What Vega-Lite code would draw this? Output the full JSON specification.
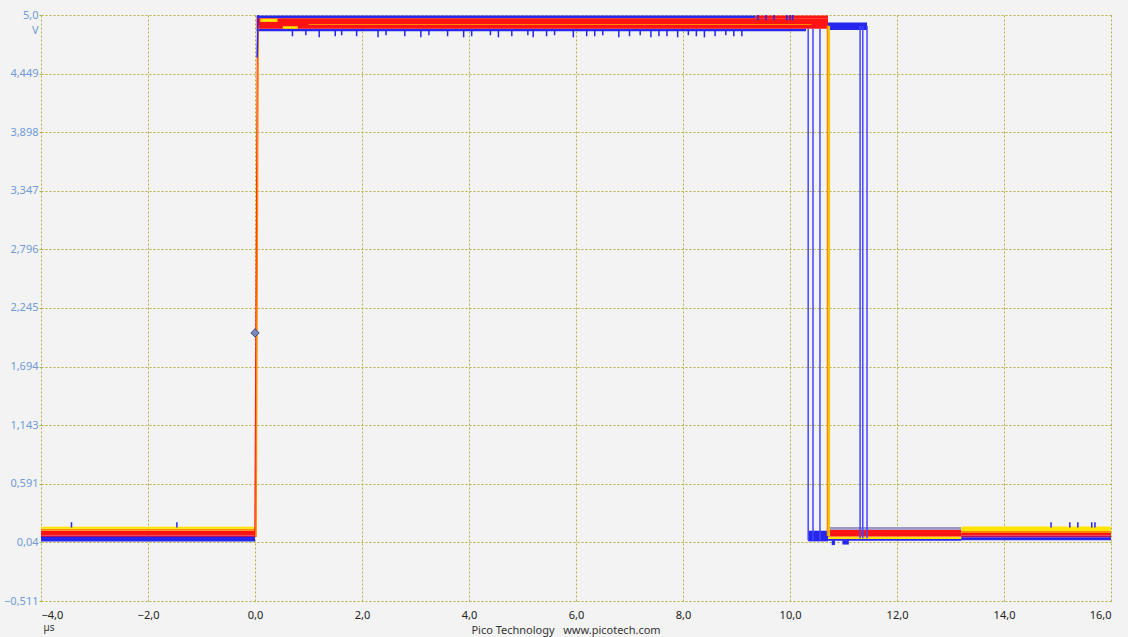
{
  "$schema": "https://vega.github.io/schema/vega-lite/v6.json",
  "width": 1070,
  "height": 586,
  "autosize": {"type": "none"},
  "padding": {"left": 41, "top": 15, "right": 17, "bottom": 36},
  "background": "#f3f3f3",
  "config": {"view": {"stroke": null}, "font": "Noto Sans"},
  "title": {
    "text": "Pico Technology\u00a0\u00a0\u00a0www.picotech.com",
    "orient": "bottom",
    "anchor": "middle",
    "fontSize": 11,
    "fontWeight": "normal",
    "color": "#333333",
    "font": "Noto Sans",
    "offset": -7,
    "dx": -10
  },
  "datasets": {
    "bands": [
      {"x0": -4, "x1": 0.0, "y0": 0.048, "y1": 0.09, "d": "1"},
      {"x0": -4, "x1": 0.0, "y0": 0.09, "y1": 0.105, "d": "3"},
      {"x0": -4, "x1": 0.0, "y0": 0.105, "y1": 0.15, "d": "4"},
      {"x0": -4, "x1": 0.0, "y0": 0.15, "y1": 0.168, "d": "5"},
      {"x0": -4, "x1": 0.0, "y0": 0.168, "y1": 0.188, "d": "6"},
      {"x0": 0.03, "x1": 9.35, "y0": 4.97, "y1": 4.995, "d": "1"},
      {"x0": 0.03, "x1": 10.3, "y0": 4.848, "y1": 4.87, "d": "1"},
      {"x0": 0.03, "x1": 10.71, "y0": 4.87, "y1": 4.97, "d": "4"},
      {"x0": 9.35, "x1": 10.71, "y0": 4.97, "y1": 4.995, "d": "4"},
      {"x0": 1.0, "x1": 10.4, "y0": 4.905, "y1": 4.915, "d": "5"},
      {"x0": 0.1, "x1": 0.42, "y0": 4.935, "y1": 4.965, "d": "6"},
      {"x0": 0.52, "x1": 0.8, "y0": 4.87, "y1": 4.895, "d": "6"},
      {"x0": 10.71, "x1": 11.44, "y0": 4.86, "y1": 4.93, "d": "1"},
      {"x0": 10.34, "x1": 10.71, "y0": 0.05, "y1": 0.15, "d": "1"},
      {"x0": 10.71, "x1": 13.2, "y0": 0.055, "y1": 0.072, "d": "1"},
      {"x0": 10.71, "x1": 13.2, "y0": 0.072, "y1": 0.095, "d": "6"},
      {"x0": 10.71, "x1": 13.2, "y0": 0.095, "y1": 0.16, "d": "4"},
      {"x0": 10.71, "x1": 13.2, "y0": 0.16, "y1": 0.185, "d": "2"},
      {"x0": 13.2, "x1": 16, "y0": 0.06, "y1": 0.088, "d": "1"},
      {"x0": 13.2, "x1": 16, "y0": 0.088, "y1": 0.104, "d": "3"},
      {"x0": 13.2, "x1": 16, "y0": 0.104, "y1": 0.128, "d": "4"},
      {"x0": 13.2, "x1": 16, "y0": 0.128, "y1": 0.147, "d": "5"},
      {"x0": 13.2, "x1": 16, "y0": 0.147, "y1": 0.19, "d": "6"},
      {"x0": 10.78, "x1": 10.84, "y0": 0.015, "y1": 0.06, "d": "1"},
      {"x0": 10.98, "x1": 11.1, "y0": 0.02, "y1": 0.06, "d": "1"}
    ],
    "edges": [
      {"x": 10.34, "x2": 10.34, "y0": 0.06, "y1": 4.87, "d": "7"},
      {"x": 10.43, "x2": 10.43, "y0": 0.06, "y1": 4.87, "d": "7"},
      {"x": 10.56, "x2": 10.56, "y0": 0.06, "y1": 4.87, "d": "7"},
      {"x": 11.31, "x2": 11.31, "y0": 0.08, "y1": 4.9, "d": "7"},
      {"x": 11.36, "x2": 11.36, "y0": 0.08, "y1": 4.9, "d": "7"},
      {"x": 11.44, "x2": 11.44, "y0": 0.08, "y1": 4.9, "d": "7"},
      {"x": 0.0, "x2": 0.05, "y0": 0.09, "y1": 4.98, "d": "4"},
      {"x": 0.02, "x2": 0.06, "y0": 0.09, "y1": 4.9, "d": "5"},
      {"x": 0.04, "x2": 0.06, "y0": 4.6, "y1": 5.0, "d": "1"},
      {"x": 10.7, "x2": 10.7, "y0": 0.1, "y1": 4.9, "d": "5"}
    ],
    "gold": [
      {"x": 10.73, "x2": 10.73, "y0": 0.1, "y1": 4.9, "d": "6"}
    ],
    "spikes": [
      {"x": 0.7, "y0": 4.8, "y1": 4.85}, {"x": 0.95, "y0": 4.81, "y1": 4.85},
      {"x": 1.2, "y0": 4.79, "y1": 4.85}, {"x": 1.5, "y0": 4.8, "y1": 4.85},
      {"x": 1.62, "y0": 4.81, "y1": 4.85}, {"x": 1.9, "y0": 4.8, "y1": 4.85},
      {"x": 2.3, "y0": 4.79, "y1": 4.85}, {"x": 2.45, "y0": 4.81, "y1": 4.85},
      {"x": 2.8, "y0": 4.8, "y1": 4.85}, {"x": 3.1, "y0": 4.79, "y1": 4.85},
      {"x": 3.25, "y0": 4.81, "y1": 4.85}, {"x": 3.6, "y0": 4.8, "y1": 4.85},
      {"x": 3.9, "y0": 4.79, "y1": 4.85}, {"x": 4.05, "y0": 4.8, "y1": 4.85},
      {"x": 4.4, "y0": 4.81, "y1": 4.85}, {"x": 4.55, "y0": 4.79, "y1": 4.85},
      {"x": 4.8, "y0": 4.8, "y1": 4.85}, {"x": 5.1, "y0": 4.81, "y1": 4.85},
      {"x": 5.2, "y0": 4.79, "y1": 4.85}, {"x": 5.45, "y0": 4.8, "y1": 4.85},
      {"x": 5.6, "y0": 4.81, "y1": 4.85}, {"x": 5.95, "y0": 4.79, "y1": 4.85},
      {"x": 6.2, "y0": 4.8, "y1": 4.85}, {"x": 6.35, "y0": 4.8, "y1": 4.85},
      {"x": 6.5, "y0": 4.81, "y1": 4.85}, {"x": 6.8, "y0": 4.79, "y1": 4.85},
      {"x": 7.0, "y0": 4.8, "y1": 4.85}, {"x": 7.2, "y0": 4.81, "y1": 4.85},
      {"x": 7.4, "y0": 4.79, "y1": 4.85}, {"x": 7.55, "y0": 4.8, "y1": 4.85},
      {"x": 7.7, "y0": 4.8, "y1": 4.85}, {"x": 7.9, "y0": 4.79, "y1": 4.85},
      {"x": 8.1, "y0": 4.81, "y1": 4.85}, {"x": 8.25, "y0": 4.8, "y1": 4.85},
      {"x": 8.4, "y0": 4.79, "y1": 4.85}, {"x": 8.6, "y0": 4.8, "y1": 4.85},
      {"x": 8.8, "y0": 4.81, "y1": 4.85}, {"x": 8.95, "y0": 4.8, "y1": 4.85},
      {"x": 9.1, "y0": 4.8, "y1": 4.85},
      {"x": 9.4, "y0": 4.95, "y1": 5.0}, {"x": 9.55, "y0": 4.95, "y1": 5.0},
      {"x": 9.7, "y0": 4.95, "y1": 5.0}, {"x": 9.94, "y0": 4.95, "y1": 5.0},
      {"x": 10.0, "y0": 4.95, "y1": 5.0}, {"x": 10.05, "y0": 4.95, "y1": 5.0},
      {"x": -3.43, "y0": 0.18, "y1": 0.23}, {"x": -1.46, "y0": 0.18, "y1": 0.23},
      {"x": 14.88, "y0": 0.18, "y1": 0.23}, {"x": 15.23, "y0": 0.18, "y1": 0.23},
      {"x": 15.38, "y0": 0.18, "y1": 0.23}, {"x": 15.64, "y0": 0.18, "y1": 0.23},
      {"x": 15.7, "y0": 0.18, "y1": 0.23}
    ],
    "trig": [{"x": 0.0, "y": 2.01}]
  },
  "layer": [
    {
      "data": {"name": "bands"},
      "mark": {"type": "rect", "clip": true},
      "encoding": {
        "x": {
          "field": "x0", "type": "quantitative",
          "scale": {"domain": [-4, 16], "nice": false, "zero": false},
          "axis": {
            "values": [-4, -2, 0, 2, 4, 6, 8, 10, 12, 14, 16],
            "labelExpr": "replace(format(datum.value, '.1f'), '.', ',')",
            "grid": true, "gridColor": "#b5ad3c", "gridDash": [2, 2], "gridWidth": 1,
            "domain": false, "ticks": false,
            "labelFontSize": 11, "labelColor": "#222222", "labelPadding": 8,
            "labelFont": "Noto Sans",
            "title": "µs", "titleX": 2, "titleY": 26, "titleAlign": "left",
            "titleBaseline": "middle", "titleFontSize": 10, "titleFontWeight": "normal",
            "titleColor": "#333333", "titleFont": "Noto Sans"
          }
        },
        "x2": {"field": "x1"},
        "y": {
          "field": "y0", "type": "quantitative",
          "scale": {"domain": [-0.511, 5.0], "nice": false, "zero": false},
          "axis": {
            "values": [-0.511, 0.04, 0.591, 1.143, 1.694, 2.245, 2.796, 3.347, 3.898, 4.449, 5.0],
            "labelExpr": "datum.value == 5 ? '5,0' : replace(format(datum.value, '.3~f'), '.', ',')",
            "grid": true, "gridColor": "#b5ad3c", "gridDash": [2, 2], "gridWidth": 1,
            "domain": false, "ticks": true, "tickSize": 2, "tickColor": "#b5ad3c",
            "labelFontSize": 11, "labelColor": "#6f9ad6", "labelPadding": 1,
            "labelFont": "Noto Sans",
            "title": "V", "titleAngle": 0, "titleX": -3, "titleY": 15,
            "titleAlign": "right", "titleBaseline": "middle",
            "titleFontSize": 11, "titleFontWeight": "normal", "titleColor": "#6f9ad6",
            "titleFont": "Noto Sans"
          }
        },
        "y2": {"field": "y1"},
        "color": {
          "field": "d", "type": "nominal",
          "scale": {"domain": ["1", "2", "3", "4", "5", "6", "7"],
                    "range": ["#2626ee", "#9a96c8", "#b0106a", "#ff1414", "#ff8a00", "#ffe400", "#4646ff"]},
          "legend": null
        }
      }
    },
    {
      "data": {"name": "spikes"},
      "mark": {"type": "rule", "strokeWidth": 1.5, "color": "#2626ee", "clip": true},
      "encoding": {
        "x": {"field": "x", "type": "quantitative"},
        "y": {"field": "y0", "type": "quantitative"},
        "y2": {"field": "y1"}
      }
    },
    {
      "data": {"name": "edges"},
      "mark": {"type": "rule", "strokeWidth": 1.5, "clip": true},
      "encoding": {
        "x": {"field": "x", "type": "quantitative"},
        "x2": {"field": "x2"},
        "y": {"field": "y0", "type": "quantitative"},
        "y2": {"field": "y1"},
        "color": {"field": "d", "type": "nominal", "legend": null}
      }
    },
    {
      "data": {"name": "gold"},
      "mark": {"type": "rule", "strokeWidth": 2, "color": "#f2c400", "clip": true},
      "encoding": {
        "x": {"field": "x", "type": "quantitative"},
        "x2": {"field": "x2"},
        "y": {"field": "y0", "type": "quantitative"},
        "y2": {"field": "y1"}
      }
    },
    {
      "data": {"name": "trig"},
      "mark": {"type": "point", "shape": "diamond", "filled": true, "size": 70,
               "fill": "#7a88b5", "stroke": "#3c4a88", "strokeWidth": 1, "opacity": 1},
      "encoding": {
        "x": {"field": "x", "type": "quantitative"},
        "y": {"field": "y", "type": "quantitative"}
      }
    }
  ]
}
